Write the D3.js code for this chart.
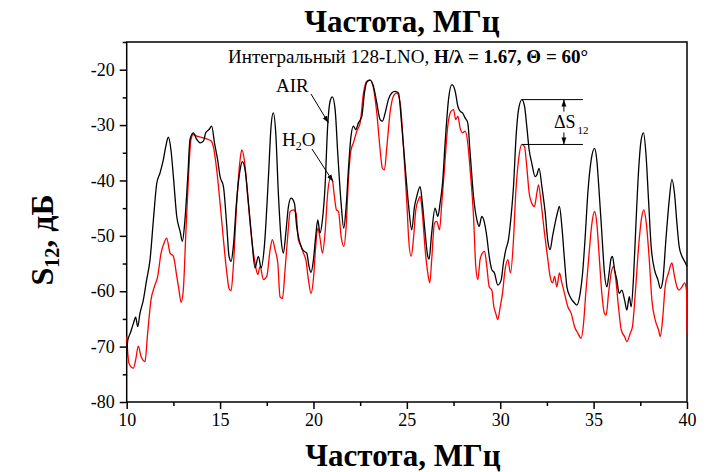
<!DOCTYPE html>
<html>
<head>
<meta charset="utf-8">
<script src="https://cdn.jsdelivr.net/npm/d3@7"></script>
<style>
  body { margin: 0; background: #fff; }
  svg { display: block; font-family: "Liberation Serif", "Times New Roman", serif; }
  .axis path, .axis line { stroke: #000; stroke-width: 1.5; }
  .axis text { fill: #000; }
</style>
</head>
<body>
<svg id="chart" width="707" height="472"></svg>
<script>
// S12 spectra (MHz, dB)
var airFreq = [10.0,10.05,10.2,10.36,10.48,10.59,10.71,10.89,11.07,11.25,11.43,11.61,11.78,11.96,12.09,12.23,12.37,12.5,12.68,12.86,12.98,13.12,13.27,13.39,13.57,13.75,13.93,14.11,14.23,14.41,14.55,14.7,14.87,15.0,15.18,15.36,15.48,15.59,15.71,15.89,16.07,16.19,16.34,16.52,16.7,16.87,17.05,17.2,17.37,17.59,17.73,17.85,17.98,18.12,18.27,18.39,18.52,18.66,18.8,18.98,19.1,19.23,19.37,19.51,19.64,19.76,19.87,20.0,20.12,20.23,20.35,20.48,20.62,20.76,20.89,21.01,21.16,21.3,21.48,21.62,21.75,21.87,22.01,22.14,22.26,22.41,22.59,22.73,22.85,23.03,23.21,23.39,23.57,23.69,23.84,24.01,24.19,24.37,24.55,24.73,24.91,25.09,25.26,25.41,25.53,25.71,25.83,25.98,26.12,26.19,26.33,26.51,26.66,26.78,26.91,27.05,27.23,27.41,27.59,27.73,27.85,27.98,28.12,28.26,28.39,28.57,28.75,28.87,29.01,29.16,29.28,29.41,29.55,29.69,29.87,30.05,30.17,30.3,30.44,30.58,30.71,30.85,30.98,31.16,31.3,31.42,31.55,31.69,31.87,31.96,32.08,32.23,32.41,32.55,32.67,32.8,32.94,33.08,33.17,33.3,33.44,33.57,33.74,33.92,34.1,34.28,34.41,34.55,34.69,34.87,35.05,35.17,35.3,35.44,35.58,35.71,35.83,35.94,36.01,36.12,36.24,36.37,36.51,36.66,36.78,36.91,37.01,37.14,37.26,37.41,37.55,37.67,37.8,37.94,38.08,38.26,38.44,38.58,38.71,38.87,39.05,39.19,39.33,39.46,39.58,39.73,39.87,40.0];
var airDb = [-72.0,-69.0,-67.5,-65.8,-64.7,-66.4,-64.0,-61.6,-57.9,-54.3,-47.1,-40.5,-38.7,-36.3,-33.9,-32.2,-34.5,-39.3,-46.5,-49.2,-51.0,-47.1,-39.3,-32.6,-31.4,-32.6,-33.2,-32.9,-31.4,-30.8,-30.2,-33.2,-36.3,-39.3,-41.1,-48.3,-53.7,-54.6,-51.9,-43.5,-38.1,-36.6,-38.1,-44.1,-50.7,-55.8,-53.7,-55.8,-51.9,-39.3,-30.2,-27.8,-31.4,-42.3,-50.7,-53.1,-49.5,-44.7,-43.2,-44.1,-48.3,-50.7,-52.2,-52.8,-53.1,-55.5,-56.6,-54.3,-50.1,-47.1,-49.5,-47.1,-41.1,-30.2,-25.7,-24.9,-27.2,-35.1,-44.1,-48.6,-44.7,-38.1,-32.0,-30.2,-30.8,-29.6,-28.4,-24.2,-22.3,-21.9,-23.0,-26.0,-29.0,-29.3,-27.8,-25.4,-24.2,-23.9,-24.2,-30.2,-37.5,-44.4,-48.9,-44.7,-42.9,-41.1,-44.1,-49.5,-53.7,-54.2,-49.5,-45.0,-46.5,-44.1,-40.5,-33.2,-25.4,-22.7,-23.9,-26.6,-27.5,-27.8,-28.7,-29.6,-35.1,-42.9,-47.1,-48.3,-46.5,-47.7,-50.1,-53.7,-56.1,-56.7,-58.9,-58.0,-54.9,-52.5,-50.7,-46.5,-41.1,-32.0,-27.2,-25.4,-26.6,-30.2,-34.5,-36.9,-39.3,-39.0,-37.8,-41.1,-45.9,-51.0,-52.5,-50.1,-47.7,-45.6,-44.7,-48.3,-54.3,-59.2,-61.0,-61.9,-62.5,-60.4,-56.7,-50.1,-42.3,-36.3,-34.2,-36.3,-42.3,-49.5,-56.7,-59.2,-56.7,-54.0,-53.7,-56.1,-57.9,-60.4,-59.8,-61.6,-63.4,-61.0,-62.8,-57.3,-48.3,-38.1,-32.6,-31.4,-35.1,-43.5,-51.9,-56.1,-57.9,-59.5,-57.9,-50.7,-43.5,-39.8,-42.3,-47.7,-51.9,-53.7,-54.6,-55.5];

var h2oFreq = [10.0,10.12,10.36,10.48,10.62,10.77,10.98,11.12,11.3,11.48,11.66,11.84,12.0,12.14,12.32,12.5,12.68,12.8,12.91,13.03,13.16,13.3,13.44,13.57,13.75,14.0,14.28,14.5,14.64,14.82,15.0,15.18,15.36,15.48,15.59,15.71,15.89,16.07,16.16,16.3,16.48,16.66,16.87,17.02,17.14,17.32,17.5,17.68,17.8,17.94,18.09,18.21,18.34,18.48,18.62,18.75,18.93,19.07,19.19,19.34,19.46,19.59,19.73,19.87,20.01,20.12,20.23,20.35,20.48,20.62,20.76,20.91,21.01,21.12,21.23,21.34,21.48,21.62,21.75,21.87,22.01,22.14,22.32,22.5,22.68,22.85,23.03,23.21,23.39,23.57,23.69,23.8,23.93,24.1,24.28,24.46,24.64,24.82,25.0,25.1,25.23,25.35,25.48,25.62,25.71,25.83,25.98,26.12,26.23,26.33,26.48,26.6,26.75,26.87,27.01,27.19,27.37,27.5,27.62,27.73,27.85,27.98,28.12,28.26,28.39,28.57,28.69,28.8,28.92,29.05,29.16,29.28,29.41,29.55,29.66,29.76,29.87,30.0,30.12,30.26,30.41,30.55,30.71,30.83,30.98,31.16,31.3,31.42,31.55,31.69,31.83,31.96,32.05,32.19,32.37,32.55,32.67,32.8,32.91,33.03,33.17,33.3,33.44,33.62,33.8,33.98,34.16,34.33,34.46,34.58,34.73,34.91,35.05,35.17,35.3,35.44,35.58,35.67,35.8,35.94,36.07,36.19,36.33,36.48,36.66,36.78,36.96,37.08,37.23,37.41,37.58,37.69,37.82,37.98,38.12,38.3,38.48,38.57,38.69,38.83,39.01,39.19,39.33,39.46,39.58,39.73,39.87,39.97,40.0];
var h2oDb = [-68.2,-73.0,-73.9,-72.4,-69.9,-71.8,-72.7,-67.6,-61.6,-59.2,-57.3,-53.1,-51.3,-50.4,-53.1,-53.7,-57.3,-59.8,-62.0,-59.8,-50.1,-39.9,-32.6,-31.7,-32.0,-32.2,-32.5,-32.8,-33.9,-38.1,-44.1,-50.7,-56.7,-59.5,-59.9,-55.5,-44.1,-36.3,-34.5,-36.3,-42.9,-49.5,-54.9,-57.0,-55.5,-57.9,-57.3,-52.5,-50.7,-52.5,-54.9,-61.0,-61.3,-56.1,-50.1,-45.6,-45.3,-45.9,-50.7,-51.9,-53.1,-54.3,-57.9,-60.4,-57.3,-51.9,-48.6,-50.4,-53.1,-49.5,-42.3,-39.6,-39.9,-42.9,-45.3,-45.6,-50.1,-51.9,-48.3,-39.9,-34.5,-33.2,-31.1,-29.6,-24.2,-22.1,-21.9,-23.3,-27.8,-34.5,-37.8,-38.1,-33.9,-27.8,-24.8,-24.2,-26.0,-33.9,-44.1,-50.7,-53.7,-50.7,-45.3,-43.5,-42.9,-45.9,-52.5,-56.7,-58.5,-54.3,-47.7,-47.4,-48.9,-44.1,-38.1,-30.2,-27.5,-27.2,-29.0,-28.4,-30.5,-31.4,-31.1,-33.2,-38.1,-46.5,-55.5,-57.9,-54.3,-53.1,-52.8,-55.5,-59.2,-59.8,-62.8,-64.0,-65.1,-62.8,-60.4,-56.1,-54.3,-56.7,-50.7,-42.3,-36.3,-33.5,-33.9,-37.5,-42.3,-44.1,-44.7,-42.3,-40.8,-44.1,-49.5,-54.3,-57.3,-58.5,-57.3,-59.2,-56.7,-58.5,-60.4,-62.8,-64.0,-66.4,-67.6,-68.5,-65.8,-60.4,-54.3,-47.7,-45.6,-47.7,-53.7,-60.4,-64.0,-64.3,-60.4,-56.7,-55.5,-57.9,-62.8,-67.0,-68.2,-69.1,-67.6,-66.4,-60.4,-51.9,-46.5,-45.3,-47.7,-54.3,-61.6,-65.2,-67.0,-68.2,-65.2,-59.2,-56.7,-54.9,-57.3,-59.2,-59.8,-59.2,-58.5,-59.8,-67.6];

var xTicks = [10, 15, 20, 25, 30, 35, 40];
var yTicks = [-80, -70, -60, -50, -40, -30, -20];
var xMinor = [12.5, 17.5, 22.5, 27.5, 32.5, 37.5];
var yMinor = [-75, -65, -55, -45, -35, -25, -15];

// delta S12 marker: peak used for both curves
var deltaFreq = 31.16, deltaAir = -25.4, deltaH2o = -33.5;

(function(){
var svg = d3.select('#chart'),
    pLeft = 126.7, pRight = 687, pTop = 42, pBottom = 402,
    plain = function(d){ return String(d); };   // hyphen minus like the original

var x = d3.scaleLinear().domain([10, 40]).range([pLeft, pRight]),
    y = d3.scaleLinear().domain([-80, -15]).range([pBottom, pTop]);

svg.append('defs').append('marker')
  .attr('id', 'arr').attr('viewBox', '0 0 10 10')
  .attr('refX', 10).attr('refY', 5)
  .attr('markerWidth', 7).attr('markerHeight', 7)
  .attr('markerUnits', 'userSpaceOnUse')
  .attr('orient', 'auto')
  .append('path').attr('d', 'M0,1.5 L10,5 L0,8.5 z').attr('fill', '#000');

// axes
var gx = svg.append('g').attr('class', 'axis').attr('transform', 'translate(0,' + pBottom + ')');
gx.call(d3.axisBottom(x).tickValues(xMinor).tickSize(4).tickFormat(''));
gx.append('g').call(d3.axisBottom(x).tickValues(xTicks).tickSize(7).tickSizeOuter(0).tickPadding(4).tickFormat(plain));
var gy = svg.append('g').attr('class', 'axis').attr('transform', 'translate(' + pLeft + ',0)');
gy.call(d3.axisLeft(y).tickValues(yMinor).tickSize(4).tickFormat(''));
gy.append('g').call(d3.axisLeft(y).tickValues(yTicks).tickSize(7).tickSizeOuter(0).tickPadding(5).tickFormat(plain));
svg.selectAll('.axis, .axis g').attr('font-family', null).attr('font-size', 18);
svg.selectAll('.axis .domain').remove();

// frame
svg.append('rect')
  .attr('x', pLeft).attr('y', pTop)
  .attr('width', pRight - pLeft).attr('height', pBottom - pTop)
  .attr('fill', 'none').attr('stroke', '#000').attr('stroke-width', 1.5);

// curves
var line = d3.line().curve(d3.curveMonotoneX)
  .x(function(d){ return x(d[0]); })
  .y(function(d){ return y(d[1]); });

var h2o = h2oFreq.map(function(f, i){ return [f, h2oDb[i]]; }),
    air = airFreq.map(function(f, i){ return [f, airDb[i]]; });

svg.append('path').datum(h2o).attr('d', line)
  .attr('fill', 'none').attr('stroke', '#ff0000').attr('stroke-width', 1.3);
svg.append('path').datum(air).attr('d', line)
  .attr('fill', 'none').attr('stroke', '#000').attr('stroke-width', 1.3);

// titles
svg.append('text').attr('x', 402).attr('y', 32)
  .attr('text-anchor', 'middle').attr('font-size', 31).attr('font-weight', 'bold')
  .text('Частота, МГц');
svg.append('text').attr('x', 403).attr('y', 466)
  .attr('text-anchor', 'middle').attr('font-size', 31).attr('font-weight', 'bold')
  .text('Частота, МГц');

var yl = svg.append('text').attr('transform', 'translate(53,240) rotate(-90)')
  .attr('text-anchor', 'middle').attr('font-size', 32).attr('font-weight', 'bold');
yl.append('tspan').text('S');
yl.append('tspan').attr('font-size', 20).attr('dy', 6).text('12');
yl.append('tspan').attr('dy', -6).text(', дБ');

var sub = svg.append('text').attr('x', 228).attr('y', 63).attr('font-size', 19);
sub.append('tspan').text('Интегральный 128-LNO, ');
sub.append('tspan').attr('font-weight', 'bold').text('H/λ = 1.67, Θ = 60°');

// AIR / H2O labels with arrows
svg.append('text').attr('x', 276).attr('y', 92).attr('font-size', 19).text('AIR');
svg.append('line')
  .attr('x1', 311).attr('y1', 94).attr('x2', x(20.8)).attr('y2', y(-29.6))
  .attr('stroke', '#000').attr('stroke-width', 1).attr('marker-end', 'url(#arr)');

var h = svg.append('text').attr('x', 282).attr('y', 146).attr('font-size', 19);
h.append('tspan').text('H');
h.append('tspan').attr('font-size', 12).attr('dy', 4).text('2');
h.append('tspan').attr('dy', -4).text('O');
svg.append('line')
  .attr('x1', 312).attr('y1', 149).attr('x2', x(21.05)).attr('y2', y(-40.2))
  .attr('stroke', '#000').attr('stroke-width', 1).attr('marker-end', 'url(#arr)');

// delta S12
var dx0 = x(deltaFreq), dx1 = dx0 + 61, ax = dx0 + 42;
[deltaAir, deltaH2o].forEach(function(v){
  svg.append('line').attr('x1', dx0).attr('x2', dx1)
    .attr('y1', y(v)).attr('y2', y(v)).attr('stroke', '#000').attr('stroke-width', 1);
});
svg.append('line').attr('x1', ax).attr('x2', ax)
  .attr('y1', y(deltaAir) + 12).attr('y2', y(deltaAir))
  .attr('stroke', '#000').attr('stroke-width', 1).attr('marker-end', 'url(#arr)');
svg.append('line').attr('x1', ax).attr('x2', ax)
  .attr('y1', y(deltaH2o) - 12).attr('y2', y(deltaH2o))
  .attr('stroke', '#000').attr('stroke-width', 1).attr('marker-end', 'url(#arr)');
var ds = svg.append('text').attr('x', dx0 + 32).attr('y', (y(deltaAir) + y(deltaH2o)) / 2 + 6).attr('font-size', 18);
ds.append('tspan').text('ΔS');
ds.append('tspan').attr('font-size', 11).attr('dy', 6).attr('dx', 2).text('12');
})();
</script>
</body>
</html>
